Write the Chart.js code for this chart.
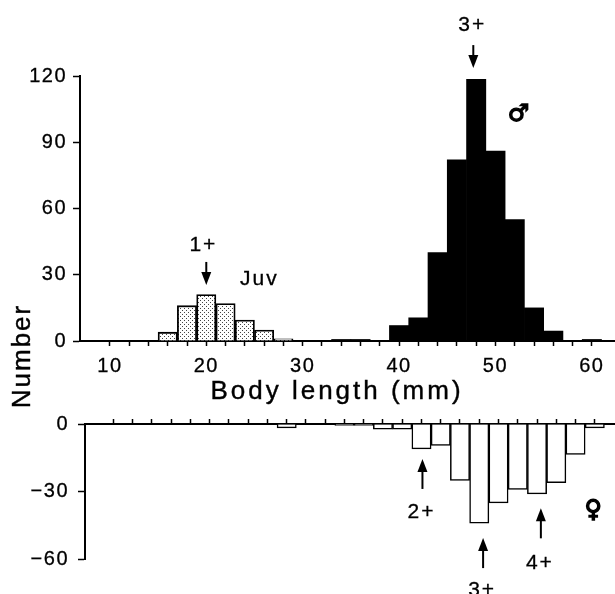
<!DOCTYPE html>
<html>
<head>
<meta charset="utf-8">
<script src="https://cdn.jsdelivr.net/npm/chart.js@4"></script>
<style>
  html, body { margin: 0; padding: 0; background: #fff; }
  #wrap { position: relative; width: 615px; height: 594px; overflow: hidden; }
  #topChart { position: absolute; left: 0; top: 0; }
  #bottomChart { position: absolute; left: 0; top: 415px; }
</style>
</head>
<body>
<div id="wrap">
  <canvas id="topChart" width="615" height="415"></canvas>
  <canvas id="bottomChart" width="615" height="179"></canvas>
</div>
<script>
// body length bins (mm, bin centres, 2 mm wide) and counts
const juvLength = [16, 18, 20, 22, 24, 26, 28];
const juvCount = [4, 16, 21, 17, 9.5, 5, 1];
const maleLength = [34, 36, 40, 42, 44, 46, 48, 50, 52, 54, 56, 60];
const maleCount = [0.7, 0.7, 7, 10.5, 40, 82, 118.5, 86, 55, 15, 4.5, 0.7];
const femaleLength = [28, 34, 36, 38, 40, 42, 44, 46, 48, 50, 52, 54, 56, 58, 60];
const femaleCount = [-1.7, -0.6, -0.6, -2.3, -2.3, -11, -9.5, -25, -44, -35, -29, -31, -26, -13.5, -1.7];

const topTicksY = [0, 30, 60, 90, 120];
const bottomTicksY = [0, -30, -60];
const lengthLabels = [10, 20, 30, 40, 50, 60];
const lengthTicks = [];
for (let v = 10; v <= 60; v += 2) lengthTicks.push(v);

const FONT = "'Liberation Sans', Arial, sans-serif";
const SYMBOL_FONT = "'DejaVu Sans', sans-serif";

function pairs(xs, ys) {
    return xs.map((x, i) => ({ x: x, y: ys[i] }));
}

function makeStipple() {
    const c = document.createElement('canvas');
    c.width = 4; c.height = 4;
    const g = c.getContext('2d');
    g.fillStyle = '#fff';
    g.fillRect(0, 0, 4, 4);
    g.fillStyle = '#444';
    g.fillRect(0, 0, 1, 1);
    g.fillRect(2, 2, 1, 1);
    return g.createPattern(c, 'repeat');
}

function noPad(s) {
    s.paddingLeft = 0; s.paddingRight = 0; s.paddingTop = 0; s.paddingBottom = 0;
}

function arrow(ctx, x, yTail, yTip) {
    const dir = yTip > yTail ? 1 : -1;
    ctx.strokeStyle = '#000';
    ctx.fillStyle = '#000';
    ctx.lineWidth = 2;
    ctx.beginPath();
    ctx.moveTo(x, yTail);
    ctx.lineTo(x, yTip - dir * 8);
    ctx.stroke();
    ctx.beginPath();
    ctx.moveTo(x, yTip);
    ctx.lineTo(x - 5, yTip - dir * 13);
    ctx.lineTo(x + 5, yTip - dir * 13);
    ctx.closePath();
    ctx.fill();
}

function label(ctx, text, x, y, font, spacing, stroke) {
    ctx.save();
    ctx.font = font;
    ctx.letterSpacing = spacing || '0px';
    ctx.fillStyle = '#000';
    ctx.strokeStyle = '#000';
    ctx.lineWidth = stroke || 0.3;
    ctx.textAlign = 'center';
    ctx.textBaseline = 'middle';
    ctx.fillText(text, x, y);
    ctx.strokeText(text, x, y);
    ctx.restore();
}

// notes in data units
const topNotes = [
    { text: '1+', x: 19.7, y: 43.5 },
    { text: 'Juv', x: 25.5, y: 28 },
    { text: '3+', x: 47.6, y: 143 },
    { text: '♂', x: 52.4, y: 102.3, symbol: true }
];
const topArrows = [
    { x: 20, from: 35.8, to: 25.4 },
    { x: 47.7, from: 134, to: 123.6 }
];
const bottomNotes = [
    { text: '2+', x: 42.0, y: -38.9 },
    { text: '3+', x: 48.3, y: -73.6 },
    { text: '4+', x: 54.3, y: -61.8 },
    { text: '♀', x: 59.85, y: -38.4, symbol: true }
];
const bottomArrows = [
    { x: 42.1, from: -28.8, to: -15.5 },
    { x: 48.4, from: -63.9, to: -50.6 },
    { x: 54.4, from: -50.7, to: -37.4 }
];

function notesPlugin(notes, arrows, extra) {
    return {
        id: 'notes',
        beforeDraw(chart) {
            chart.ctx.letterSpacing = '1.5px';
        },
        afterDraw(chart) {
            const ctx = chart.ctx;
            const sx = chart.scales.x, sy = chart.scales.y;
            notes.forEach(n => {
                const font = n.symbol ? 'bold 24px ' + SYMBOL_FONT : '21px ' + FONT;
                label(ctx, n.text, sx.getPixelForValue(n.x), sy.getPixelForValue(n.y), font,
                      n.symbol ? '0px' : '2px', n.symbol ? 1.4 : 0.3);
            });
            arrows.forEach(a => {
                arrow(ctx, sx.getPixelForValue(a.x), sy.getPixelForValue(a.from), sy.getPixelForValue(a.to));
            });
            if (extra) extra(ctx);
        }
    };
}

function xAxis(opts) {
    return Object.assign({
        type: 'linear',
        offset: false,
        afterBuildTicks: s => { s.ticks = lengthTicks.map(v => ({ value: v })); },
        grid: { drawOnChartArea: false, offset: false, tickLength: 5, tickColor: '#000', tickWidth: 1.5 },
        border: { color: '#000', width: 2 }
    }, opts);
}

const tickFont = { family: FONT, size: 20 };
const stipple = makeStipple();

window.onload = () => {
    new Chart(document.getElementById('topChart'), {
        type: 'bar',
        data: {
            datasets: [{
                label: 'Juv',
                data: pairs(juvLength, juvCount),
                backgroundColor: stipple,
                borderColor: '#000',
                borderWidth: 1.8
            }, {
                label: '♂',
                data: pairs(maleLength, maleCount),
                backgroundColor: '#000',
                borderWidth: 0
            }]
        },
        options: {
            responsive: false,
            animation: false,
            devicePixelRatio: 1,
            layout: { padding: { top: 76, left: 0, right: 0, bottom: 0 } },
            datasets: { bar: { grouped: false, categoryPercentage: 1, barPercentage: 1 } },
            plugins: { legend: { display: false }, tooltip: { enabled: false } },
            scales: {
                x: xAxis({
                    min: 6.9, max: 62.4,
                    afterFit: s => { s.height = 74; noPad(s); },
                    ticks: {
                        color: '#000', font: tickFont, padding: 8,
                        textStrokeColor: '#000', textStrokeWidth: 0.3,
                        autoSkip: false, maxRotation: 0,
                        callback: v => lengthLabels.includes(v) ? String(v) : ''
                    }
                }),
                y: {
                    min: 0, max: 120,
                    afterBuildTicks: s => { s.ticks = topTicksY.map(v => ({ value: v })); },
                    afterFit: s => { s.width = 80; noPad(s); },
                    grid: { drawOnChartArea: false, tickLength: 7, tickColor: '#000', tickWidth: 1.5 },
                    border: { color: '#000', width: 2 },
                    ticks: {
                        color: '#000', font: tickFont, padding: 6,
                        textStrokeColor: '#000', textStrokeWidth: 0.3
                    }
                }
            }
        },
        plugins: [notesPlugin(topNotes, topArrows, ctx => {
            label(ctx, 'Body length (mm)', 337, 392, '26px ' + FONT, '3px', 0.4);
            ctx.save();
            ctx.translate(23, 356);
            ctx.rotate(-Math.PI / 2);
            label(ctx, 'Number', 0, 0, '26px ' + FONT, '2px', 0.4);
            ctx.restore();
        })]
    });

    new Chart(document.getElementById('bottomChart'), {
        type: 'bar',
        data: {
            datasets: [{
                label: '♀',
                data: pairs(femaleLength, femaleCount),
                backgroundColor: '#fff',
                borderColor: '#000',
                borderWidth: 1.5
            }]
        },
        options: {
            responsive: false,
            animation: false,
            devicePixelRatio: 1,
            layout: { padding: { top: 0, left: 0, right: 0, bottom: 34.7 } },
            datasets: { bar: { grouped: false, categoryPercentage: 1, barPercentage: 1 } },
            plugins: { legend: { display: false }, tooltip: { enabled: false } },
            scales: {
                x: xAxis({
                    position: 'top',
                    min: 7.05, max: 62.1,
                    afterFit: s => { s.height = 9; noPad(s); },
                    ticks: { display: false, autoSkip: false }
                }),
                y: {
                    min: -60, max: 0,
                    afterBuildTicks: s => { s.ticks = bottomTicksY.map(v => ({ value: v })); },
                    afterFit: s => { s.width = 85; noPad(s); },
                    grid: { drawOnChartArea: false, tickLength: 7, tickColor: '#000', tickWidth: 1.5 },
                    border: { color: '#000', width: 2 },
                    ticks: {
                        color: '#000', font: tickFont, padding: 9,
                        textStrokeColor: '#000', textStrokeWidth: 0.3,
                        callback: v => v < 0 ? '\u2212' + Math.abs(v) : String(v)
                    }
                }
            }
        },
        plugins: [notesPlugin(bottomNotes, bottomArrows)]
    });
};
</script>
</body>
</html>
